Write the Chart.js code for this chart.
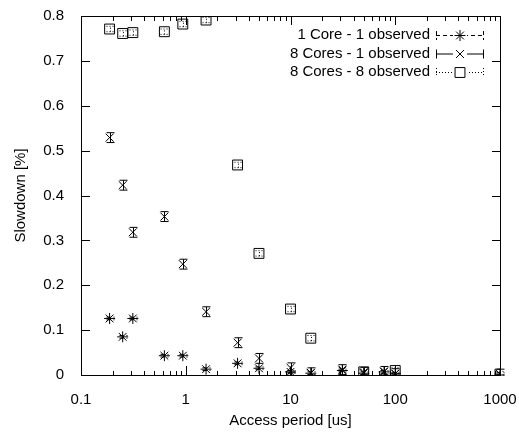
<!DOCTYPE html>
<html>
<head>
<meta charset="utf-8">
<script src="https://cdn.jsdelivr.net/npm/chart.js@4/dist/chart.umd.min.js"></script>
<style>
  body { margin: 0; background: #fff; }
  canvas { display: block; }
</style>
</head>
<body>
<canvas id="slowdown-chart" width="519" height="432"></canvas>
<script>
// Access periods [us]
const periods = [0.1875, 0.25, 0.3125, 0.625, 0.9375, 1.5625, 3.125, 5, 10, 15.625, 31.25, 50, 78.125, 100, 1000];

// 1 Core - 1 observed
const core1Obs1 = [0.126, 0.085, 0.126, 0.043, 0.043, 0.013, 0.026, 0.015, 0.007, 0.004, 0.010, 0.004, 0.007, 0.003, 0.002];
const core1Obs1Err = [0.003, 0.003, 0.003, 0.003, 0.003, 0.003, 0.003, 0.003, 0.003, 0.003, 0.003, 0.003, 0.003, 0.003, 0.003];

// 8 Cores - 1 observed
const cores8Obs1 = [0.529, 0.423, 0.318, 0.353, 0.247, 0.141, 0.072, 0.037, 0.016, 0.005, 0.012, 0.006, 0.008, 0.003, 0.002];
const cores8Obs1Err = [0.011, 0.011, 0.011, 0.011, 0.011, 0.011, 0.011, 0.011, 0.011, 0.011, 0.011, 0.011, 0.011, 0.011, 0.011];

// 8 Cores - 8 observed
const cores8Obs8 = [0.771, 0.761, 0.763, 0.765, 0.782, 0.791, 0.468, 0.271, 0.147, 0.082, null, 0.007, null, 0.010, 0.002];
const cores8Obs8Err = [0.006, 0.006, 0.006, 0.006, 0.006, 0.006, 0.006, 0.006, 0.006, 0.006, 0.006, 0.006, 0.006, 0.006, 0.006];

const xTicks = [0.1, 1, 10, 100, 1000];
const yTicks = [0, 0.1, 0.2, 0.3, 0.4, 0.5, 0.6, 0.7, 0.8];

const FONT = 'Liberation Sans, Arial, sans-serif';
const errDashes = [[4, 3], [], [1, 2]];

function toPoints(values, errs) {
    const pts = [];
    periods.forEach((p, i) => {
        if (values[i] !== null) pts.push({ x: p, y: values[i], err: errs[i] });
    });
    return pts;
}

function drawMarker(ctx, style, x, y) {
    ctx.beginPath();
    if (style === 'star') {
        const r = 5.5, d = r * Math.SQRT1_2;
        ctx.moveTo(x - r, y); ctx.lineTo(x + r, y);
        ctx.moveTo(x, y - r); ctx.lineTo(x, y + r);
        ctx.moveTo(x - d, y - d); ctx.lineTo(x + d, y + d);
        ctx.moveTo(x - d, y + d); ctx.lineTo(x + d, y - d);
    } else if (style === 'crossRot') {
        const d = 5.6 * Math.SQRT1_2;
        ctx.moveTo(x - d, y - d); ctx.lineTo(x + d, y + d);
        ctx.moveTo(x - d, y + d); ctx.lineTo(x + d, y - d);
    } else {
        const s = 7 * Math.SQRT1_2;
        ctx.rect(x - s, y - s, 2 * s, 2 * s);
    }
    ctx.stroke();
}

// box and inward ticks, gnuplot style
const frameBox = {
    id: 'frameBox',
    beforeDatasetsDraw(chart) {
        const ctx = chart.ctx;
        const xs = chart.scales.x, ys = chart.scales.y;
        const L = Math.round(xs.getPixelForValue(0.1));
        const R = Math.round(xs.getPixelForValue(1000));
        const T = Math.round(ys.getPixelForValue(0.8));
        const B = Math.round(ys.getPixelForValue(0));
        ctx.save();
        ctx.fillStyle = '#000';
        ctx.fillRect(L, T, R - L + 1, 1);
        ctx.fillRect(L, B, R - L + 1, 1);
        ctx.fillRect(L, T, 1, B - T + 1);
        ctx.fillRect(R, T, 1, B - T + 1);
        xTicks.forEach((v, i) => {
            const px = Math.round(xs.getPixelForValue(v));
            ctx.fillRect(px, B - 9, 1, 9);
            ctx.fillRect(px, T, 1, 9);
            if (i < xTicks.length - 1) {
                for (let m = 2; m <= 9; m++) {
                    const mx = Math.round(xs.getPixelForValue(v * m));
                    ctx.fillRect(mx, B - 4, 1, 4);
                    ctx.fillRect(mx, T, 1, 5);
                }
            }
        });
        yTicks.forEach(v => {
            const py = Math.round(ys.getPixelForValue(v));
            ctx.fillRect(L, py, 9, 1);
            ctx.fillRect(R - 8, py, 9, 1);
        });
        ctx.restore();
    }
};

// error bars and key
const errorBars = {
    id: 'errorBars',
    afterDatasetsDraw(chart) {
        const ctx = chart.ctx;
        const xs = chart.scales.x, ys = chart.scales.y;
        ctx.save();
        ctx.strokeStyle = '#000';
        ctx.lineWidth = 1;
        chart.data.datasets.forEach((ds, di) => {
            ctx.setLineDash(errDashes[di]);
            ds.data.forEach(pt => {
                const px = Math.round(xs.getPixelForValue(pt.x)) + 0.5;
                const y1 = ys.getPixelForValue(Math.max(0, pt.y - pt.err));
                const y2 = ys.getPixelForValue(pt.y + pt.err);
                ctx.beginPath();
                ctx.moveTo(px, y1); ctx.lineTo(px, y2);
                ctx.moveTo(px - 4, y1); ctx.lineTo(px + 4, y1);
                ctx.moveTo(px - 4, y2); ctx.lineTo(px + 4, y2);
                ctx.stroke();
            });
        });
        ctx.setLineDash([]);

        ctx.font = '15px ' + FONT;
        ctx.textAlign = 'right';
        ctx.textBaseline = 'middle';
        chart.data.datasets.forEach((ds, i) => {
            const ly = 35 + i * 18.5;
            ctx.fillStyle = '#000';
            ctx.fillText(ds.label, 430, ly);
            ctx.setLineDash(errDashes[i]);
            ctx.beginPath();
            ctx.moveTo(436, ly + 0.5); ctx.lineTo(484, ly + 0.5);
            ctx.moveTo(436.5, ly - 4); ctx.lineTo(436.5, ly + 5);
            ctx.moveTo(483.5, ly - 4); ctx.lineTo(483.5, ly + 5);
            ctx.stroke();
            ctx.setLineDash([]);
            ctx.fillStyle = '#fff';
            ctx.fillRect(453, ly - 7, 14, 14);
            drawMarker(ctx, ds.pointStyle, 460, ly + 0.5);
        });
        ctx.restore();
    }
};

new Chart(document.getElementById('slowdown-chart').getContext('2d'), {
    type: 'scatter',
    data: {
        datasets: [{
            label: '1 Core - 1 observed',
            data: toPoints(core1Obs1, core1Obs1Err),
            pointStyle: 'star',
            pointRadius: 5.5
        }, {
            label: '8 Cores - 1 observed',
            data: toPoints(cores8Obs1, cores8Obs1Err),
            pointStyle: 'crossRot',
            pointRadius: 5.6
        }, {
            label: '8 Cores - 8 observed',
            data: toPoints(cores8Obs8, cores8Obs8Err),
            pointStyle: 'rect',
            pointRadius: 7
        }]
    },
    options: {
        responsive: false,
        animation: false,
        layout: { padding: { top: 16, right: 19, left: 0, bottom: 0 } },
        elements: {
            point: { borderColor: '#000', backgroundColor: 'rgba(0,0,0,0)', borderWidth: 1, hoverRadius: 5 }
        },
        plugins: { legend: { display: false }, tooltip: { enabled: false } },
        scales: {
            x: {
                type: 'logarithmic',
                min: 0.1,
                max: 1000,
                afterBuildTicks: s => { s.ticks = xTicks.map(v => ({ value: v })); },
                afterFit: s => { s.height = 57; s.paddingLeft = 0; s.paddingRight = 0; },
                grid: { display: false },
                border: { display: false },
                ticks: {
                    color: '#000', padding: 8, maxRotation: 0,
                    font: { family: FONT, size: 15 },
                    callback: v => String(v)
                },
                title: {
                    display: true, text: 'Access period [us]', color: '#000',
                    font: { family: FONT, size: 15 }, padding: { top: 0, bottom: 2 }
                }
            },
            y: {
                min: 0,
                max: 0.8,
                afterBuildTicks: s => { s.ticks = yTicks.map(v => ({ value: v })); },
                afterFit: s => { s.width = 81; s.paddingTop = 0; s.paddingBottom = 0; },
                grid: { display: false },
                border: { display: false },
                ticks: {
                    color: '#000', padding: 9,
                    font: { family: FONT, size: 15 },
                    callback: v => String(Number(v.toFixed(1)))
                },
                title: {
                    display: true, text: 'Slowdown [%]', color: '#000',
                    font: { family: FONT, size: 15 }, padding: { top: 12, bottom: 0 }
                }
            }
        }
    },
    plugins: [frameBox, errorBars]
});
</script>
</body>
</html>
